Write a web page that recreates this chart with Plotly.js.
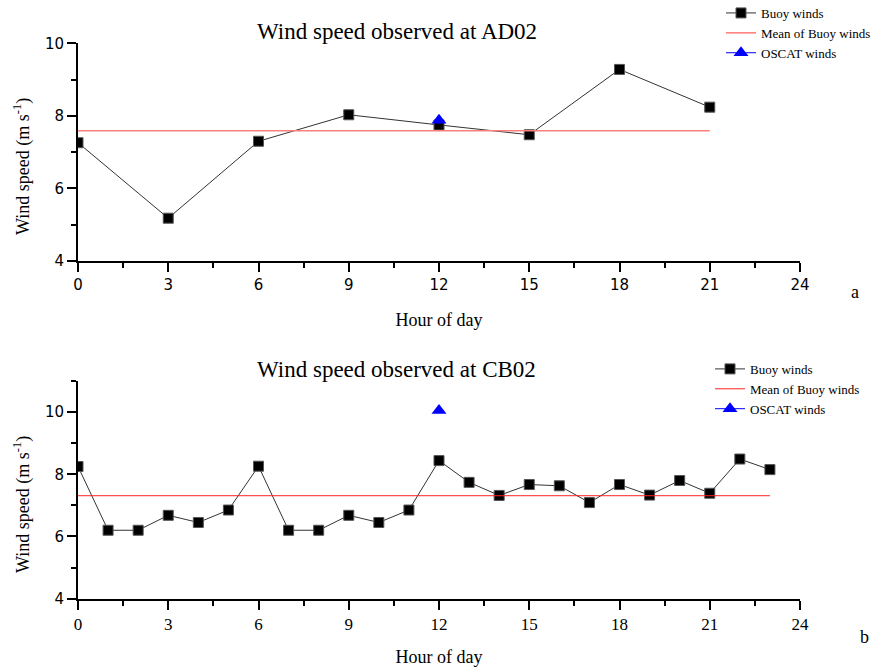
<!DOCTYPE html>
<html>
<head>
<meta charset="utf-8">
<script src="https://cdn.plot.ly/plotly-3.0.1.min.js"></script>
<style>
  html, body { margin: 0; padding: 0; background: #fff; }
  #chart { width: 882px; height: 671px; }
</style>
</head>
<body>
<div id="chart"></div>
<script>
// Station AD02: buoy wind speed (m/s) every 3 hours
const hoursAD02 = [0, 3, 6, 9, 12, 15, 18, 21];
const buoyAD02 = [7.26, 5.18, 7.30, 8.03, 7.75, 7.48, 9.28, 8.24];
const meanAD02 = 7.59;
const oscatHoursAD02 = [12];
const oscatAD02 = [7.88];

// Station CB02: buoy wind speed (m/s) every hour
const hoursCB02 = [0, 1, 2, 3, 4, 5, 6, 7, 8, 9, 10, 11, 12, 13, 14, 15, 16, 17, 18, 19, 20, 21, 22, 23];
const buoyCB02 = [8.25, 6.20, 6.20, 6.68, 6.45, 6.85, 8.26, 6.20, 6.20, 6.68, 6.45, 6.85,
                  8.44, 7.74, 7.32, 7.67, 7.63, 7.09, 7.67, 7.33, 7.80, 7.39, 8.49, 8.15];
const meanCB02 = 7.31;
const oscatHoursCB02 = [12];
const oscatCB02 = [10.05];

// Axis ticks
const xTickVals = [0, 3, 6, 9, 12, 15, 18, 21, 24];
const yTickVals = [4, 6, 8, 10];

const SERIF = '"Liberation Serif", "Times New Roman", serif';
const SANS = '"DejaVu Sans", Verdana, sans-serif';

function buoyTrace(x, y, xa, ya, lg) {
  return {
    type: 'scatter', mode: 'lines+markers', name: 'Buoy winds',
    x: x, y: y, xaxis: xa, yaxis: ya, legend: lg,
    line: { color: '#333333', width: 1 },
    marker: { symbol: 'square', size: 10, color: '#000000', line: { color: '#555555', width: 1 } }
  };
}
function meanTrace(x, m, xa, ya, lg, color, width) {
  return {
    type: 'scatter', mode: 'lines', name: 'Mean of Buoy winds',
    x: [x[0], x[x.length - 1]], y: [m, m], xaxis: xa, yaxis: ya, legend: lg,
    line: { color: color, width: width }
  };
}
function oscatTrace(x, y, xa, ya, lg) {
  return {
    type: 'scatter', mode: 'lines+markers', name: 'OSCAT winds',
    x: x, y: y, xaxis: xa, yaxis: ya, legend: lg,
    line: { color: '#0000ff', width: 1 },
    marker: { symbol: 'triangle-up', size: 13, color: '#0000ff' }
  };
}

const data = [
  buoyTrace(hoursAD02, buoyAD02, 'x', 'y', 'legend'),
  meanTrace(hoursAD02, meanAD02, 'x', 'y', 'legend', '#ff7f7f', 1.6),
  oscatTrace(oscatHoursAD02, oscatAD02, 'x', 'y', 'legend'),
  buoyTrace(hoursCB02, buoyCB02, 'x2', 'y2', 'legend2'),
  meanTrace(hoursCB02, meanCB02, 'x2', 'y2', 'legend2', '#ff2020', 1),
  oscatTrace(oscatHoursCB02, oscatCB02, 'x2', 'y2', 'legend2')
];

function xAxis(anchor, tickFamily, tickSize, standoff) {
  return {
    anchor: anchor, domain: [0, 1], range: [0, 24],
    tickmode: 'array', tickvals: xTickVals,
    showline: true, linewidth: 2, linecolor: '#000',
    ticks: 'outside', ticklen: 9, tickwidth: 2, tickcolor: '#000',
    minor: { tickmode: 'linear', tick0: 0, dtick: 1.5, ticks: 'outside', ticklen: 5, tickwidth: 2, tickcolor: '#000' },
    showgrid: false, zeroline: false, automargin: false,
    tickfont: { family: tickFamily, size: tickSize, color: '#000' },
    title: { text: 'Hour of day', font: { family: SERIF, size: 18, color: '#000' }, standoff: standoff }
  };
}
function yAxis(anchor, domain, range) {
  return {
    anchor: anchor, domain: domain, range: range,
    tickmode: 'array', tickvals: yTickVals,
    showline: true, linewidth: 2, linecolor: '#000',
    ticks: 'outside', ticklen: 9, tickwidth: 2, tickcolor: '#000',
    minor: { tickmode: 'linear', tick0: 4, dtick: 1, ticks: 'outside', ticklen: 5, tickwidth: 2, tickcolor: '#000' },
    showgrid: false, zeroline: false, automargin: false,
    tickfont: { family: SANS, size: 15, color: '#000' }
  };
}

const legendStyle = {
  font: { family: SERIF, size: 13, color: '#000' },
  bgcolor: 'rgba(0,0,0,0)', borderwidth: 0,
  xanchor: 'left', yanchor: 'top', tracegroupgap: 0, itemwidth: 30
};

function note(text, px, py, size, angle) {
  return {
    text: text, xref: 'paper', yref: 'paper',
    x: (px - 78) / 722, y: 1 - py / 671,
    xanchor: 'center', yanchor: 'middle', showarrow: false, textangle: angle || 0,
    font: { family: SERIF, size: size, color: '#000' }
  };
}

const layout = {
  width: 882, height: 671,
  // fixed margins: the legends sit in the right margin without resizing the plots
  margin: { l: 78, r: 82, t: 0, b: 0, autoexpand: false },
  paper_bgcolor: '#fff', plot_bgcolor: '#fff',
  showlegend: true,
  xaxis: xAxis('y', SANS, 15, 20),
  yaxis: yAxis('x', [0.611, 0.9355], [4, 10]),
  xaxis2: xAxis('y2', SERIF, 17, 17),
  yaxis2: yAxis('x2', [0.1078, 0.4322], [4, 11]),
  legend: Object.assign({ x: (721 - 78) / 722, y: 1.003 }, legendStyle),
  legend2: Object.assign({ x: (710 - 78) / 722, y: 0.4725 }, legendStyle),
  annotations: [
    note('Wind speed observed at AD02', 397, 31, 23),
    note('Wind speed observed at CB02', 396, 370, 23),
    note('Wind speed (m s<sup>-1</sup>)', 22, 167, 18, -90),
    note('Wind speed (m s<sup>-1</sup>)', 22, 505, 18, -90),
    note('a', 855, 292, 18),
    note('b', 864, 637, 18)
  ]
};

Plotly.newPlot('chart', data, layout, { staticPlot: true, displayModeBar: false });
</script>
</body>
</html>
